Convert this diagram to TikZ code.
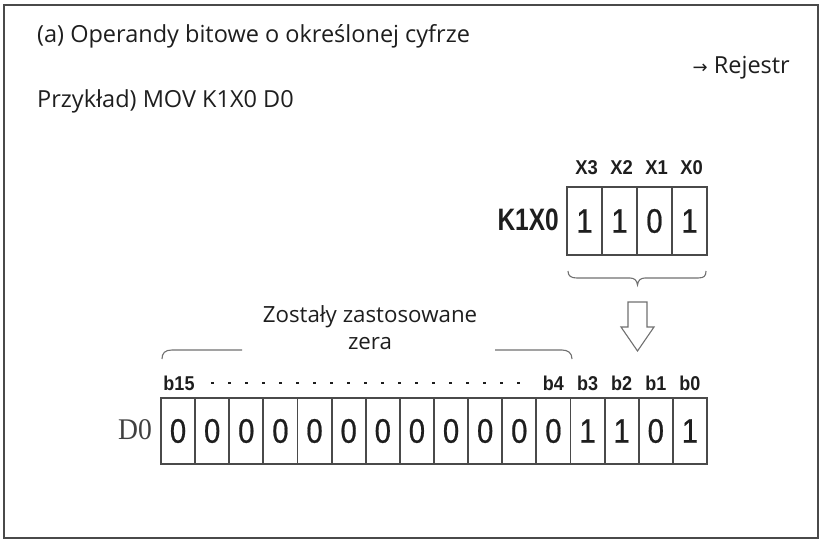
\documentclass[tikz,border=0pt]{standalone}
\usepackage{fontspec}
\setmainfont{Open Sans}
\newfontfamily\arialfont{Liberation Sans}
\newfontfamily\digitfont[FakeStretch=0.86,FakeBold=0.6]{Liberation Sans}
\newfontfamily\xfont[FakeStretch=0.92]{Liberation Sans}
\newfontfamily\bfont[FakeStretch=0.9]{Liberation Sans}
\newfontfamily\kfont[FakeStretch=0.79]{Liberation Sans}
\newfontfamily\dserif[FakeStretch=0.92]{Liberation Serif}
\newfontfamily\symfont{DejaVu Sans}
\definecolor{txtc}{HTML}{1E1E1E}
\definecolor{linec}{HTML}{4A4A4A}
\definecolor{thinc}{HTML}{707070}
\tikzset{
  txt/.style={inner sep=0pt, text=txtc, font=\fontsize{23.5}{28}\selectfont},
  cellbox/.style={draw=linec, line width=1.8pt, inner sep=0pt, text=txtc,
     font=\fontsize{34}{34}\digitfont},
  xlab/.style={inner sep=0pt, text=txtc, font=\fontsize{20}{20}\xfont\bfseries},
  blab/.style={inner sep=0pt, text=txtc, font=\fontsize{20}{20}\bfont\bfseries},
  thinline/.style={draw=thinc, line width=1.1pt},
  frame/.style={draw=linec, line width=1.5pt}
}
\begin{document}
\begin{tikzpicture}[x=1pt,y=-1pt]
\useasboundingbox (0,0) rectangle (821,541);
\draw[frame] (4,5) rectangle (818,538);

\node[txt, anchor=base west] (title) at (37,42) {(a) Operandy bitowe o określonej cyfrze};
\node[txt, anchor=base west] (example) at (37,107) {Przykład) MOV K1X0 D0};
\node[txt, anchor=base east] (reg) at (790,73) {{\symfont\fontsize{18}{18}\selectfont →} Rejestr};

% top register K1X0
\foreach \d [count=\i from 0] in {1,1,0,1} {
  \node[cellbox, minimum width=35pt, minimum height=68pt] (k\i) at (584.5+35*\i, 221) {\d};
}
\foreach \l [count=\i from 0] in {X3,X2,X1,X0} {
  \node[xlab] (x\i) at (586.5+35*\i, 168) {\l};
}
\node[inner sep=0pt, text=txtc, anchor=east, font=\fontsize{31}{31}\kfont\bfseries] (klab) at (559,220) {K1X0};

% brace under K1X0
\draw[thinline] (568,271) .. controls (568,276) and (571,278) .. (577,278) -- (630,278)
   .. controls (634,278) and (637,280) .. (637.5,285)
   .. controls (638,280) and (641,278) .. (645,278) -- (698,278)
   .. controls (704,278) and (706,276) .. (706,271);

% hollow arrow
\draw[thinline, line join=miter] (628,302) -- (647,302) -- (647,327) -- (654,327) -- (637.5,351) -- (621,327) -- (628,327) -- cycle;

% zeros text and split brace
\node[txt, anchor=base, font=\fontsize{22.3}{28}\selectfont] (zeros1) at (370,322) {Zostały zastosowane};
\node[txt, anchor=base, font=\fontsize{22.3}{28}\selectfont] (zeros2) at (370,349) {zera};
\draw[thinline] (162,359) .. controls (162,353) and (165,350) .. (172,350) -- (242,350);
\draw[thinline] (495,350) -- (562,350) .. controls (568,350) and (572,353) .. (572,359);

% D0 register
\foreach \d [count=\i from 0] in {0,0,0,0,0,0,0,0,0,0,0,0,1,1,0,1} {
  \node[cellbox, minimum width=34.125pt, minimum height=66pt] (d\i) at (178.06+34.125*\i, 431) {\d};
}
\node[inner sep=0pt, text=txtc!85, font=\fontsize{30}{30}\dserif] (dlab) at (135,430) {D0};

% bit labels
\node[blab] (b15) at (179,383) {b15};
\node[blab] (b4) at (553.4,383) {b4};
\node[blab] (b3) at (587.5,383) {b3};
\node[blab] (b2) at (621.6,383) {b2};
\node[blab] (b1) at (655.8,383) {b1};
\node[blab] (b0) at (689.9,383) {b0};
\foreach \k in {0,...,18} {
  \fill[txtc] (210.5+17*\k,382) rectangle +(3,2);
}
\end{tikzpicture}
\end{document}
